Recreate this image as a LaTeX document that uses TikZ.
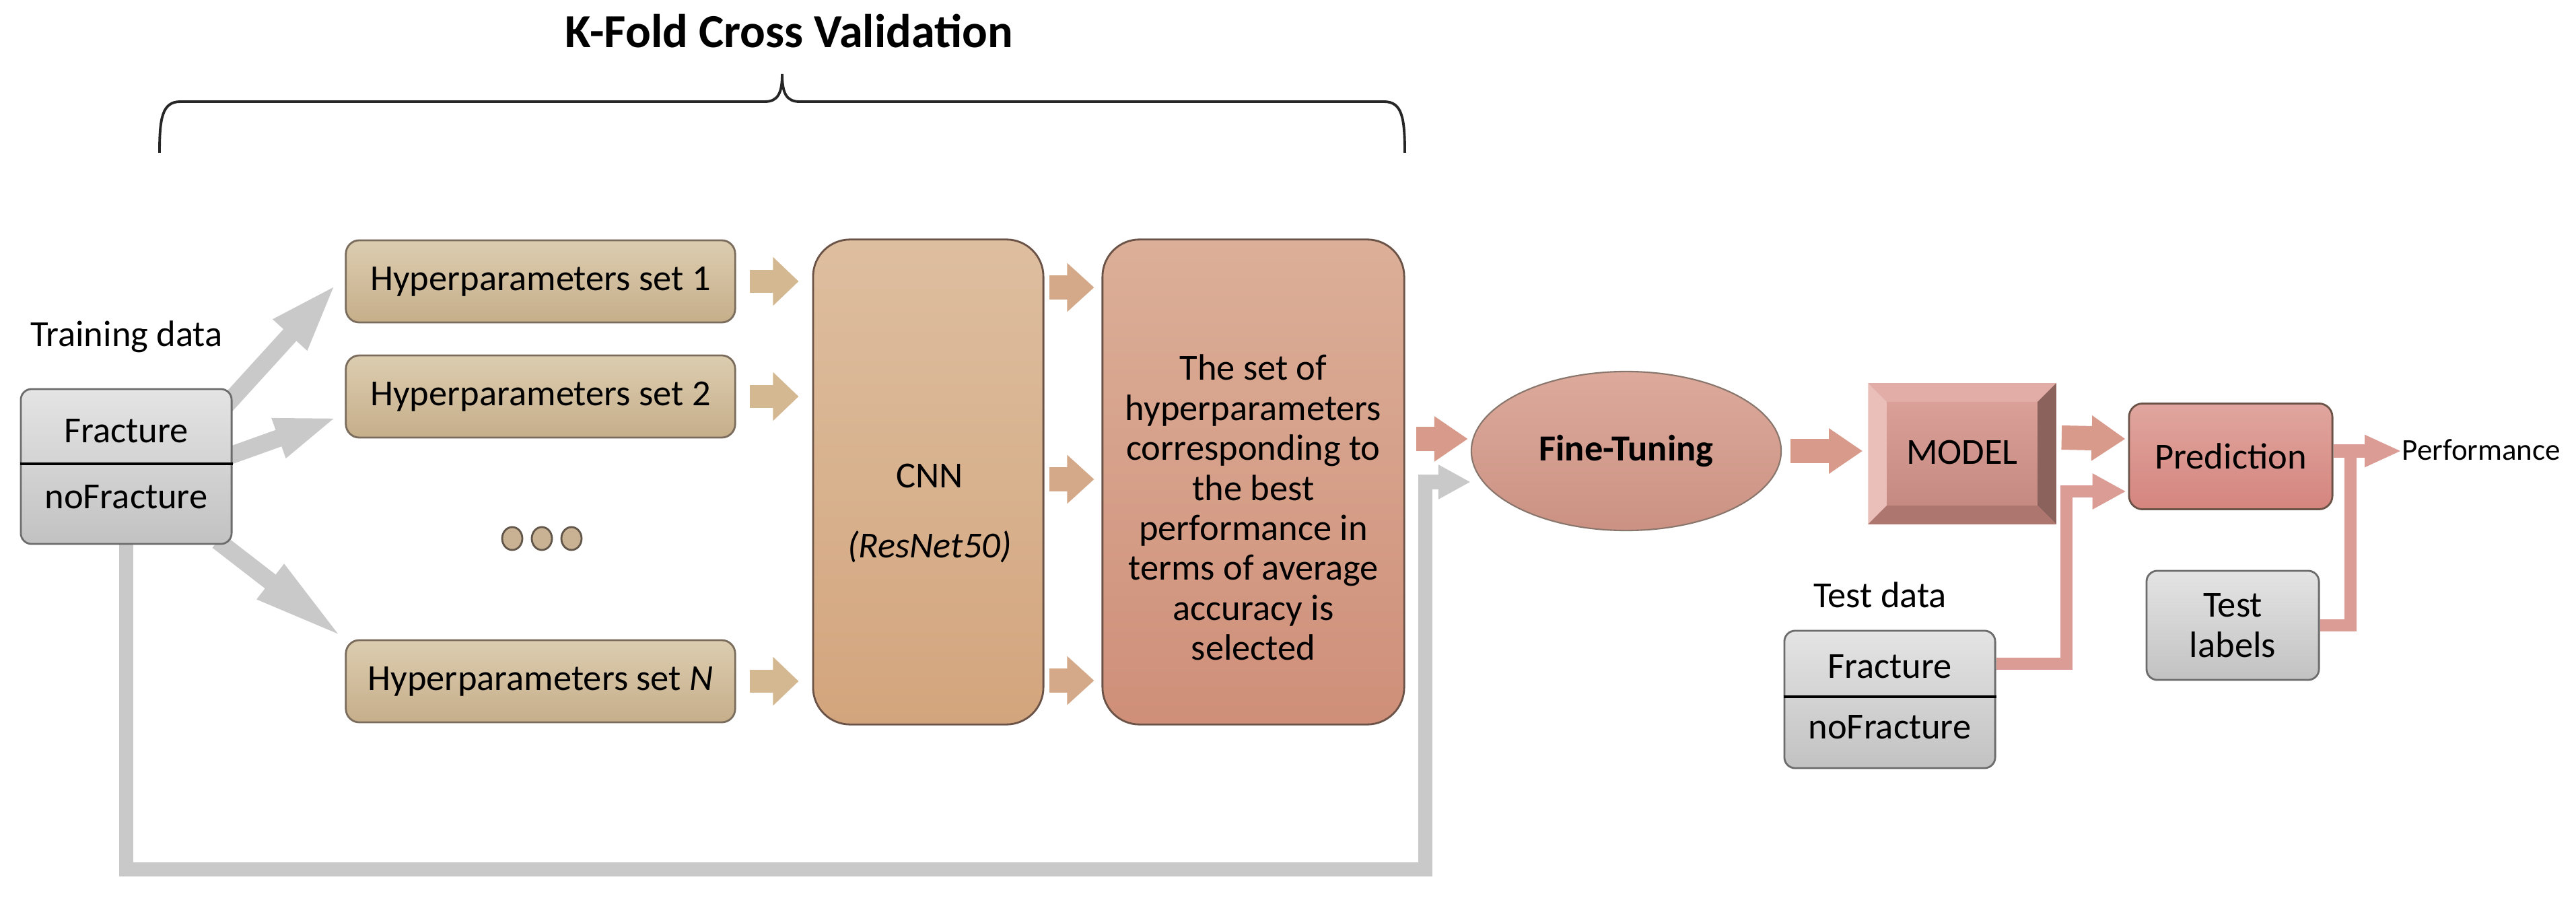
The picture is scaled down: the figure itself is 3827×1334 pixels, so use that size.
\documentclass[tikz,border=0pt]{standalone}
\usepackage{fontspec}
\setmainfont{Carlito}
\usetikzlibrary{arrows.meta,shapes.geometric,calc}
\pgfdeclarelayer{bg}
\pgfsetlayers{bg,main}
\definecolor{hyptop}{HTML}{DCCDB0}
\definecolor{hypbot}{HTML}{C6AE8A}
\definecolor{hypline}{HTML}{7A6C5C}
\definecolor{cnntop}{HTML}{DDBE9F}
\definecolor{cnnbot}{HTML}{D3A57D}
\definecolor{restop}{HTML}{DCAF98}
\definecolor{resbot}{HTML}{CF8F79}
\definecolor{boxline}{HTML}{6A5247}
\definecolor{ftfill}{HTML}{D69A8A}
\definecolor{grtop}{HTML}{E4E4E4}
\definecolor{grbot}{HTML}{C2C2C2}
\definecolor{grline}{HTML}{6C6C6C}
\definecolor{grarrow}{HTML}{C9C9C9}
\definecolor{tanarr}{HTML}{D4B892}
\definecolor{tan2arr}{HTML}{D4A98A}
\definecolor{salarr}{HTML}{D89A8A}
\definecolor{conarr}{HTML}{DB9C95}
\definecolor{predtop}{HTML}{E0A69F}
\definecolor{predbot}{HTML}{D4857E}
\definecolor{mface}{HTML}{D6968D}
\definecolor{mtop}{HTML}{E2ADA6}
\definecolor{mleft}{HTML}{EABFB9}
\definecolor{mright}{HTML}{8C625C}
\definecolor{mbot}{HTML}{AD7770}
\definecolor{dotfill}{HTML}{C9B294}
\tikzset{
  txt/.style={font=\fontsize{15.5}{16.9}\selectfont, inner sep=0pt, align=center},
  hbox/.style={txt, draw=hypline, line width=0.8pt, rounded corners=0.2cm,
    top color=hyptop, bottom color=hypbot, minimum width=5.78cm, minimum height=1.22cm},
  tallbox/.style={draw=boxline, line width=0.8pt, rounded corners=0.55cm, minimum height=7.2cm},
  graybox/.style={txt, draw=grline, line width=0.8pt, rounded corners=0.16cm,
    top color=grtop, bottom color=grbot},
  tanarrow/.style={draw=tanarr, line width=0.34cm, -{Triangle[length=0.38cm,width=0.70cm]}},
  tanarrowb/.style={draw=tan2arr, line width=0.36cm, -{Triangle[length=0.40cm,width=0.70cm]}},
  salarrow/.style={draw=salarr, line width=0.36cm, -{Triangle[length=0.50cm,width=0.64cm]}},
  conline/.style={draw=conarr, line width=0.18cm},
  conarrow/.style={conline, -{Triangle[length=0.50cm,width=0.50cm]}},
  grayarrow/.style={draw=grarrow, line width=0.26cm},
  dotc/.style={ellipse, draw=hypline!80!black, line width=0.8pt, fill=dotfill,
    minimum width=0.30cm, minimum height=0.34cm, inner sep=0pt},
}
\begin{document}
\begin{tikzpicture}[x=0.01cm, y=-0.01cm]
\useasboundingbox (0,0) rectangle (3827,1334);

% title and brace
\node[font=\bfseries\fontsize{20}{24}\selectfont, inner sep=0pt] (title) at (1172,46) {K-Fold Cross Validation};
\draw[line width=1.1pt, color=black!85] (237,227) .. controls (237,175) and (241,151) .. (268,151)
  -- (1136,151) .. controls (1156,151) and (1162,138) .. (1162,110)
  .. controls (1162,138) and (1168,151) .. (1188,151)
  -- (2056,151) .. controls (2083,151) and (2087,175) .. (2087,227);

% training data
\node[txt] (trainlbl) at (188,500) {Training data};
\node[graybox, minimum width=3.13cm, minimum height=2.30cm] (train) at (187.5,693) {};
\draw[line width=1.2pt] (train.west |- 0,689) -- (train.east |- 0,689);
\node[txt] (fr1) at (187.5,640) {Fracture};
\node[txt] (nf1) at (187.5,738) {noFracture};

% hyperparameter boxes
\node[hbox] (h1) at (803,418) {Hyperparameters set 1};
\node[hbox] (h2) at (803,589) {Hyperparameters set 2};
\node[hbox] (h3) at (803,1012) {Hyperparameters set \textit{N}};
\node[dotc] (d1) at (761,800) {};
\node[dotc] (d2) at (805,800) {};
\node[dotc] (d3) at (849,800) {};

% CNN and result boxes
\node[tallbox, top color=cnntop, bottom color=cnnbot, minimum width=3.42cm] (cnn) at (1379,716) {};
\node[txt] (cnnt) at (1381,707) {CNN};
\node[txt, font=\itshape\fontsize{15.5}{16.9}\selectfont] (cnnr) at (1381,812) {(ResNet50)};
\node[tallbox, top color=restop, bottom color=resbot, minimum width=4.48cm] (res) at (1862,716) {};
\node[txt] (rest) at (1862,754) {The set of\\hyperparameters\\corresponding to\\the best\\performance in\\terms of average\\accuracy is\\selected};

% fine tuning
\node[ellipse, draw=boxline!80, line width=0.6pt, top color=ftfill!85!white, bottom color=ftfill!95!black,
  minimum width=4.6cm, minimum height=2.36cm, inner sep=0pt,
  font=\bfseries\fontsize{15.5}{16.9}\selectfont] (ft) at (2416,670) {Fine-Tuning};

% model with bevel
\node[txt, minimum width=2.78cm, minimum height=2.08cm, fill=mface] (model) at (2915,674) {};
\coordinate (mnw) at (model.north west);
\coordinate (mne) at (model.north east);
\coordinate (mse) at (model.south east);
\coordinate (msw) at (model.south west);
\coordinate (inw) at ($(mnw)+(28,28)$);
\coordinate (ine) at ($(mne)+(-28,28)$);
\coordinate (ise) at ($(mse)+(-28,-28)$);
\coordinate (isw) at ($(msw)+(28,-28)$);
\fill[mtop] (mnw) -- (mne) -- (ine) -- (inw) -- cycle;
\fill[mleft] (mnw) -- (inw) -- (isw) -- (msw) -- cycle;
\fill[mright] (mne) -- (mse) -- (ise) -- (ine) -- cycle;
\fill[mbot] (msw) -- (isw) -- (ise) -- (mse) -- cycle;
\shade[top color=mface!90!white, bottom color=mface!92!black] (inw) rectangle (ise);
\node[txt] (modelt) at (2915,672) {MODEL};

% prediction
\node[txt, draw=boxline, line width=0.8pt, rounded corners=0.2cm, top color=predtop, bottom color=predbot,
  minimum width=3.02cm, minimum height=1.57cm] (pred) at (3314,678) {Prediction};
\node[anchor=west, inner sep=0pt, font=\fontsize{12.8}{14}\selectfont] (perf) at (3568,668) {Performance};

% test data
\node[txt] (testlbl) at (2793,884) {Test data};
\node[graybox, minimum width=3.13cm, minimum height=2.04cm] (test) at (2807.5,1039) {};
\draw[line width=1.2pt] (test.west |- 0,1035) -- (test.east |- 0,1035);
\node[txt] (fr2) at (2807.5,990) {Fracture};
\node[txt] (nf2) at (2807.5,1080) {noFracture};
\node[graybox, minimum width=2.56cm, minimum height=1.62cm] (tl) at (3317,929) {Test\\labels};

% connectors
\begin{pgfonlayer}{bg}
\draw[grayarrow, -{Triangle[length=1.05cm,width=0.60cm]}] ($(train.north east)+(-12,28)$) -- ($(h1.west)+(-11,2)$);
\draw[grayarrow, -{Triangle[length=0.95cm,width=0.55cm]}] ($(train.east)+(-10,-14)$) -- ($(h2.west)+(-9,30)$);
\draw[grayarrow, -{Triangle[length=1.40cm,width=0.58cm]}] ($(train.south east)+(-22,-6)$) -- (h3.north west);
\coordinate (loopc) at (2117,1291);
\draw[grayarrow, line width=0.21cm, -{Triangle[length=0.48cm,width=0.48cm]}]
  (train.south) |- (loopc) |- ($(ft.west)+(0,46)$);
\end{pgfonlayer}

\draw[tanarrow] ($(h1.east)+(20,0)$) -- ($(cnn.west |- h1.east)+(-20,0)$);
\draw[tanarrow] ($(h2.east)+(20,0)$) -- ($(cnn.west |- h2.east)+(-20,0)$);
\draw[tanarrow] ($(h3.east)+(20,0)$) -- ($(cnn.west |- h3.east)+(-20,0)$);
\draw[tanarrowb] ($(cnn.east |- h1.east)+(7,9)$) -- ($(res.west |- h1.east)+(-11,9)$);
\draw[tanarrowb] ($(cnn.east)+(7,-4)$) -- ($(res.west)+(-11,-4)$);
\draw[tanarrowb] ($(cnn.east |- h3.east)+(7,-1)$) -- ($(res.west |- h3.east)+(-11,-1)$);
\draw[salarrow] ($(res.east)+(16,-64)$) -- ($(ft.west)+(-4,-18)$);
\draw[salarrow] ($(ft.east)+(13,0)$) -- ($(model.west)+(-8,-4)$);
\draw[salarrow] ($(model.east)+(8,-24)$) -- ($(pred.west)+(-4,-26)$);
\draw[conarrow] ($(test.east)+(0,-53)$) -| ($(pred.west)+(-92,52)$) -- ($(pred.west)+(-3,52)$);
\coordinate (pj) at (3492,670);
\draw[conline] (tl.east) -| (pj);
\draw[draw=conarr, line width=0.20cm, -{Triangle[length=0.55cm,width=0.44cm]}] (pred.east |- pj) -- ($(perf.west)+(0,2)$);
\end{tikzpicture}
\end{document}
